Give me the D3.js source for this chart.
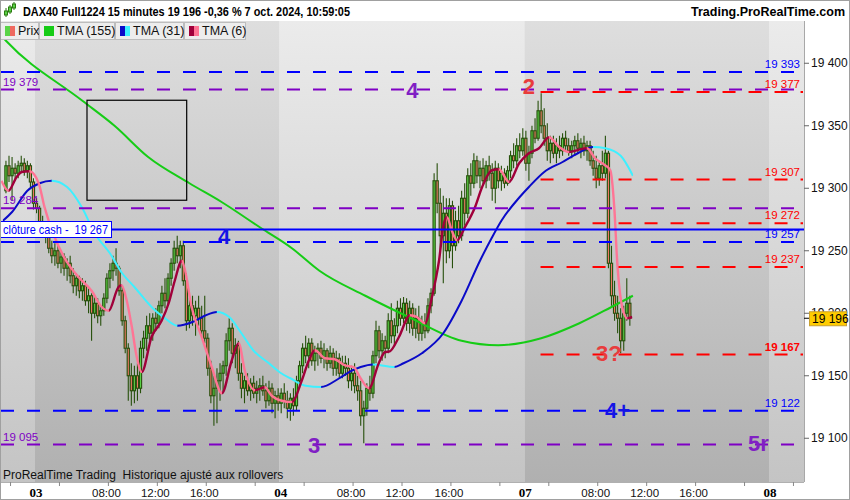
<!DOCTYPE html>
<html>
<head>
<meta charset="utf-8">
<script src="https://cdn.jsdelivr.net/npm/d3@7"></script>
<style>
  body { margin: 0; background: #fff; }
  svg { display: block; font-family: "Liberation Sans", Arial, sans-serif; }
  text { white-space: pre; }
</style>
</head>
<body>
<svg width="850" height="500"></svg>
<script>
// ---- data (15 min bars, slot 0 = day 03 session start, 80 slots per day) ----
const dayStarts = [-80, 0, 80, 160, 240]
const dayNames = ["02", "03", "04", "07", "08"]

// [open, high, low, close]
const day02 = [
  [19298,19322,19296,19318],[19318,19326,19305,19310],[19310,19325,19290,19316],
  [19316,19320,19306,19312],[19312,19322,19308,19318],[19318,19326,19312,19320],
  [19320,19324,19310,19314],[19314,19322,19308,19318],[19318,19320,19300,19305],
  [19305,19308,19283,19288]
]
const day03 = [
  [19288,19292,19280,19284],[19284,19286,19268,19272],[19272,19278,19262,19266],[19266,19270,19256,19262],
  [19262,19264,19248,19252],[19252,19258,19240,19246],[19246,19256,19238,19250],[19250,19254,19236,19240],
  [19240,19250,19232,19245],[19245,19248,19230,19236],[19236,19244,19226,19240],[19240,19246,19224,19230],
  [19230,19236,19216,19222],[19222,19232,19214,19228],[19228,19230,19212,19218],[19218,19228,19210,19222],
  [19222,19226,19206,19210],[19210,19220,19200,19214],[19214,19216,19178,19200],[19200,19214,19196,19208],
  [19208,19212,19192,19198],[19198,19206,19190,19202],[19202,19216,19198,19212],[19212,19232,19208,19228],
  [19228,19240,19220,19234],[19234,19246,19226,19240],[19240,19252,19230,19236],[19236,19238,19214,19218],
  [19218,19222,19190,19194],[19194,19198,19168,19172],[19172,19176,19130,19150],[19150,19160,19126,19138],
  [19138,19158,19128,19150],[19150,19160,19130,19140],[19140,19178,19136,19172],[19172,19186,19164,19180],
  [19180,19198,19170,19190],[19190,19200,19178,19184],[19184,19200,19178,19196],[19196,19204,19186,19192],
  [19192,19210,19188,19206],[19206,19222,19200,19216],[19216,19228,19204,19210],[19210,19232,19206,19228],
  [19228,19244,19222,19240],[19240,19258,19234,19252],[19252,19262,19240,19246],[19246,19258,19236,19254],
  [19254,19258,19222,19226],[19226,19232,19186,19194],[19194,19212,19188,19206],[19206,19214,19190,19198],
  [19198,19210,19182,19204],[19204,19214,19190,19196],[19196,19206,19180,19186],[19186,19214,19176,19180],
  [19180,19184,19150,19156],[19156,19162,19128,19134],[19134,19150,19110,19140],[19140,19156,19112,19146],
  [19146,19160,19130,19152],[19152,19162,19136,19158],[19158,19184,19150,19178],[19178,19196,19170,19188],
  [19188,19192,19160,19168],[19168,19180,19156,19174],[19174,19178,19146,19152],[19152,19160,19132,19140],
  [19140,19150,19128,19146],[19146,19152,19134,19138],[19138,19148,19130,19144],[19144,19150,19132,19136],
  [19136,19146,19128,19140],[19140,19148,19130,19142],[19142,19150,19134,19138],[19138,19144,19124,19130],
  [19130,19146,19126,19140],[19140,19144,19120,19128],[19128,19138,19116,19134],[19134,19140,19122,19128]
]
const day04 = [
  [19128,19140,19120,19136],[19136,19144,19124,19130],[19130,19138,19116,19124],[19124,19136,19114,19132],
  [19132,19140,19118,19126],[19126,19150,19122,19146],[19146,19162,19140,19158],[19158,19176,19152,19172],
  [19172,19182,19160,19166],[19166,19180,19156,19176],[19176,19180,19158,19162],[19162,19174,19154,19168],
  [19168,19176,19158,19172],[19172,19178,19160,19164],[19164,19176,19156,19170],[19170,19172,19154,19160],
  [19160,19174,19156,19168],[19168,19172,19150,19156],[19156,19170,19150,19164],[19164,19168,19148,19152],
  [19152,19166,19148,19160],[19160,19166,19150,19156],[19156,19164,19140,19146],[19146,19158,19138,19152],
  [19152,19160,19136,19142],[19142,19150,19130,19138],[19138,19146,19110,19118],[19118,19130,19096,19124],
  [19124,19144,19118,19140],[19140,19150,19130,19136],[19136,19170,19132,19166],[19166,19194,19160,19186],
  [19186,19190,19164,19170],[19170,19184,19162,19178],[19178,19182,19164,19172],[19172,19200,19168,19194],
  [19194,19208,19176,19182],[19182,19196,19174,19190],[19190,19210,19184,19204],[19204,19212,19190,19196],
  [19196,19213,19192,19208],[19208,19212,19186,19192],[19192,19210,19184,19204],[19204,19208,19182,19188],
  [19188,19204,19180,19196],[19196,19206,19178,19184],[19184,19198,19178,19192],[19192,19200,19180,19186],
  [19186,19212,19184,19206],[19206,19220,19200,19216],[19216,19312,19214,19306],[19306,19320,19280,19288],
  [19288,19300,19250,19262],[19262,19294,19224,19280],[19280,19292,19240,19250],[19250,19292,19244,19286],
  [19286,19290,19236,19254],[19254,19282,19250,19274],[19274,19286,19256,19262],[19262,19298,19258,19292],
  [19292,19304,19270,19280],[19280,19316,19276,19310],[19310,19320,19294,19304],[19304,19328,19300,19322],
  [19322,19326,19304,19310],[19310,19322,19300,19316],[19316,19324,19302,19306],[19306,19322,19300,19318],
  [19318,19326,19306,19312],[19312,19320,19290,19300],[19300,19322,19288,19316],[19316,19320,19300,19306],
  [19306,19318,19298,19312],[19312,19316,19300,19304],[19304,19318,19302,19314],[19314,19330,19308,19326],
  [19326,19336,19316,19322],[19322,19340,19318,19334],[19334,19344,19324,19330],[19330,19348,19326,19340]
]
const day07 = [
  [19340,19346,19314,19320],[19320,19334,19306,19328],[19328,19350,19324,19346],[19346,19356,19336,19340],
  [19340,19370,19338,19362],[19362,19376,19344,19350],[19350,19364,19334,19340],[19340,19352,19322,19330],
  [19330,19342,19320,19336],[19336,19342,19324,19328],[19328,19340,19320,19334],[19334,19342,19324,19330],
  [19330,19344,19326,19340],[19340,19346,19330,19334],[19334,19340,19326,19330],[19330,19338,19324,19334],
  [19334,19342,19326,19338],[19338,19344,19328,19332],[19332,19340,19324,19336],[19336,19342,19326,19330],
  [19330,19338,19322,19334],[19334,19338,19318,19322],[19322,19330,19310,19316],[19316,19326,19300,19308],
  [19308,19322,19302,19318],[19318,19330,19306,19312],[19312,19342,19308,19328],[19328,19330,19236,19240],
  [19240,19254,19206,19214],[19214,19226,19194,19200],[19200,19214,19184,19196],[19196,19204,19168,19178],
  [19178,19206,19170,19200],[19200,19228,19194,19208],[19208,19214,19190,19196]
]
const firstSlots = [-10, 0, 80, 160]

// indicators, [slot, value]
const tma155 = [[-11.5,19422],[-10,19418],[15,19370],[25.5,19350],[36.5,19325],[50,19304],[60.5,19289],
  [73.5,19268],[83.5,19252],[92.5,19234],[107.5,19214],[122.5,19196],[139,19178],[151,19174.4],
  [165,19180],[177.5,19192],[188,19205],[195,19214]]
const tma31 = [[-11,19274],[-8,19281],[-3,19298],[1,19304],[5,19306],[10,19301],[15,19284],[19,19264],
  [24,19248],[28,19232],[32,19221],[38,19204],[42,19196],[46,19190],[51,19193],[55,19198],[59,19201],
  [63,19197],[67,19184],[71,19170],[76,19160],[80,19152],[83,19148],[88,19142],[93,19141],[99,19148],
  [103,19154],[106,19157],[110,19159],[117,19157],[120,19160],[126,19168],[133,19184],[139,19210],
  [145,19242],[149,19261],[152,19274],[158,19293],[161,19301],[166,19313],[172,19321],[177,19328],
  [182,19333],[186,19332],[191,19326],[195,19310]]
const tma6 = [[-11.5,19306],[-9.2,19298],[-6.5,19309],[-4.9,19313],[-2.3,19313.6],[0.7,19304],
  [2.6,19285],[5.9,19261],[9.2,19244],[13.7,19229],[18,19218],[21.3,19205],[23.6,19202],[26.8,19221],
  [27.8,19222.4],[29.5,19210],[31.1,19190],[32.7,19166],[34.4,19153],[37.6,19181],[40.9,19194],
  [43.2,19208],[45.2,19226],[47.5,19242],[48.4,19236],[50.7,19205],[54,19181],[57.3,19157],[60.6,19136],
  [63.8,19162],[66.1,19176],[68.1,19154],[71.4,19138.4],[74.6,19140.8],[76.9,19134],[80.2,19130],
  [83.5,19129],[86.7,19146],[89,19162],[91,19170.4],[94.3,19164],[97.5,19163.2],[100.8,19158.4],
  [103.8,19156.8],[105.7,19149],[108.7,19140],[111.9,19160],[113.9,19168.8],[115.5,19169.5],
  [118.5,19181],[122.1,19198.4],[124.4,19197],[127,19192],[129.3,19213],[131.6,19242],[133.2,19272],
  [134.2,19276.8],[135.8,19266],[137.5,19258.4],[140.1,19269],[143.4,19285],[145.7,19301],[148.9,19314.4],
  [151.2,19315.2],[154.5,19305],[157.8,19320],[161,19328],[164.3,19332],[167.6,19340.8],[170.9,19333],
  [174.1,19329],[178.4,19331.5],[180,19332],[182.6,19324],[185.9,19318.4],[187.6,19314.4],[188.9,19285],
  [189.9,19240],[191.5,19205],[193.1,19196],[194.8,19197]]

// drawn levels
const blueLevels = [19393, 19257, 19122]
const purpleLevels = [19379, 19284, 19095]
const redLevels = [19377, 19307, 19272, 19237, 19167]
const cashClose = 19267
const redStartSlot = 165.3
const lastPrice = 19196
const priceTicks = [19100, 19150, 19200, 19250, 19300, 19350, 19400]
const timeTicks = [[24,"08:00"],[40,"12:00"],[56,"16:00"],[104,"08:00"],[120,"12:00"],[136,"16:00"],
  [184,"08:00"],[200,"12:00"],[216,"16:00"]]
const minorTicks = [-8, 8, 72, 88, 152, 168, 232, 248]
const waveLabels = [
  { t: "4", s: 123.4, v: 19379, c: "#8020c4" },
  { t: "2", s: 161.5, v: 19382, c: "#e83c3c" },
  { t: "4", s: 61.8, v: 19262, c: "#1414e6" },
  { t: "3", s: 91.3, v: 19095, c: "#8020c4" },
  { t: "3?", s: 187.6, v: 19168, c: "#e83c3c" },
  { t: "4+", s: 190.5, v: 19123, c: "#1414e6" },
  { t: "5r", s: 236.5, v: 19096, c: "#8020c4" }
]
const boxSlots = [17, 49.6]
const boxValues = [19370.4, 19290.4]

// ---- setup ----
const W = 850, H = 500, plotR = 804, plotT = 21, plotB = 482
const svg = d3.select("svg")
const defs = svg.append("defs")
const x = d3.scaleLinear().domain([0, 240]).range([35, 769])
const y = d3.scaleLinear().domain([19065, 19433]).range([482, 22])
const fmt = v => `${Math.floor(v / 1000)} ${String(Math.round(v) % 1000).padStart(3, "0")}`

defs.append("clipPath").attr("id", "plot")
  .append("rect").attr("x", 0).attr("y", plotT).attr("width", plotR).attr("height", plotB - plotT)

function grad(id, top, bottom) {
  const g = defs.append("linearGradient").attr("id", id).attr("x1", 0).attr("y1", 0).attr("x2", 0).attr("y2", 1)
  g.append("stop").attr("offset", "0%").attr("stop-color", top)
  g.append("stop").attr("offset", "100%").attr("stop-color", bottom)
}
grad("light", "#ebebeb", "#c4c4c4")
grad("dark", "#dedede", "#b0b0b0")

svg.append("rect").attr("width", W).attr("height", H).attr("fill", "#fff")

const plot = svg.append("g").attr("clip-path", "url(#plot)")

// day bands
plot.selectAll("rect.day")
  .data(dayStarts)
  .enter().append("rect")
  .attr("class", "day")
  .attr("x", d => x(d))
  .attr("y", plotT)
  .attr("width", x(80) - x(0))
  .attr("height", plotB - plotT)
  .attr("fill", (d, i) => i % 2 ? "url(#dark)" : "url(#light)")

// candles
const bars = []
;[day02, day03, day04, day07].forEach((day, k) => {
  day.forEach((b, i) => bars.push({ s: firstSlots[k] + i, o: b[0], h: b[1], l: b[2], c: b[3] }))
})
const slotW = x(1) - x(0)
const candles = plot.selectAll("g.bar").data(bars).enter().append("g").attr("class", "bar")
candles.append("line")
  .attr("x1", d => x(d.s + 0.5)).attr("x2", d => x(d.s + 0.5))
  .attr("y1", d => y(d.h)).attr("y2", d => y(d.l))
  .attr("stroke", "#27500c").attr("stroke-width", 1.1)
candles.append("rect")
  .attr("x", d => x(d.s + 0.5) - slotW * 0.36)
  .attr("width", slotW * 0.72)
  .attr("y", d => y(Math.max(d.o, d.c)))
  .attr("height", d => Math.max(1, Math.abs(y(d.o) - y(d.c))))
  .attr("fill", d => d.c >= d.o ? "#58d045" : "#ee7866")
  .attr("stroke", "#27500c").attr("stroke-width", 1.1)

// indicator lines
const lineGen = d3.line().x(d => x(d[0] + 0.5)).y(d => y(d[1])).curve(d3.curveMonotoneX)
function twoColorLine(pts, upColor, downColor, id, width) {
  const up = defs.append("clipPath").attr("id", id + "-up")
  const dn = defs.append("clipPath").attr("id", id + "-dn")
  pts.forEach((p, i) => {
    if (i === 0) return
    const prev = pts[i - 1]
    const target = p[1] > prev[1] ? up : dn
    target.append("rect")
      .attr("x", x(prev[0] + 0.5) - 0.2).attr("width", x(p[0] + 0.5) - x(prev[0] + 0.5) + 0.4)
      .attr("y", 0).attr("height", H)
  })
  ;[[up, upColor], [dn, downColor]].forEach(([clip, col]) => {
    plot.append("path").attr("d", lineGen(pts))
      .attr("clip-path", `url(#${clip.attr("id")})`)
      .attr("fill", "none").attr("stroke", col).attr("stroke-width", width)
  })
}
plot.append("path").attr("d", lineGen(tma155))
  .attr("fill", "none").attr("stroke", "#16cc16").attr("stroke-width", 2)
twoColorLine(tma31, "#0a0ac8", "#3ef0ff", "t31", 2)
twoColorLine(tma6, "#a0003a", "#ff7494", "t6", 2.4)

// levels
function level(v, color, fromX, dashStart) {
  plot.append("line")
    .attr("x1", fromX).attr("x2", plotR - 1)
    .attr("y1", y(v)).attr("y2", y(v))
    .attr("stroke", color).attr("stroke-width", 2)
    .attr("stroke-dasharray", "13,13")
    .attr("stroke-dashoffset", dashStart)
}
blueLevels.forEach(v => level(v, "#0000ff", 0, -1))
purpleLevels.forEach(v => level(v, "#7f00c4", 0, -1))
redLevels.forEach(v => level(v, "#ff0000", x(redStartSlot), 0))
plot.append("line")
  .attr("x1", 0).attr("x2", plotR).attr("y1", y(cashClose)).attr("y2", y(cashClose))
  .attr("stroke", "#0000ff").attr("stroke-width", 2)

// level labels
const lab = svg.append("g").attr("font-size", 11.5)
blueLevels.forEach(v => lab.append("text").attr("x", 800).attr("y", y(v) - 4)
  .attr("text-anchor", "end").attr("fill", "#0000ff").text(fmt(v)))
redLevels.forEach(v => lab.append("text").attr("x", 800).attr("y", y(v) - 4)
  .attr("text-anchor", "end").attr("fill", "#ff0000")
  .attr("font-weight", v === 19167 ? "bold" : null).text(fmt(v)))
purpleLevels.forEach(v => lab.append("text").attr("x", 3).attr("y", y(v) - 4)
  .attr("fill", "#7f00c4").text(fmt(v)))

// cash close box
svg.append("rect").attr("x", 0.5).attr("y", y(cashClose) - 8).attr("width", 111).attr("height", 16)
  .attr("fill", "#fff").attr("stroke", "#0000ff").attr("stroke-width", 1)
svg.append("text").attr("x", 3).attr("y", y(cashClose) + 4.5).attr("font-size", 13)
  .attr("textLength", 105).attr("lengthAdjust", "spacingAndGlyphs")
  .attr("fill", "#0000ff").text("clôture cash -  " + fmt(cashClose))

// box annotation
svg.append("rect")
  .attr("x", x(boxSlots[0])).attr("y", y(boxValues[0]))
  .attr("width", x(boxSlots[1]) - x(boxSlots[0])).attr("height", y(boxValues[1]) - y(boxValues[0]))
  .attr("fill", "none").attr("stroke", "#000").attr("stroke-width", 1.2)

// wave labels
svg.selectAll("text.wave").data(waveLabels).enter().append("text")
  .attr("class", "wave")
  .attr("x", d => x(d.s)).attr("y", d => y(d.v) + 8)
  .attr("text-anchor", "middle").attr("font-size", 22).attr("font-weight", "bold")
  .attr("fill", d => d.c).text(d => d.t)

// ---- axes ----
svg.append("line").attr("x1", plotR + 0.5).attr("x2", plotR + 0.5).attr("y1", plotT).attr("y2", plotB)
  .attr("stroke", "#a8a8a8")
const yAxis = svg.append("g")
priceTicks.forEach(v => {
  yAxis.append("line").attr("x1", plotR).attr("x2", plotR + 5).attr("y1", y(v)).attr("y2", y(v)).attr("stroke", "#666")
  yAxis.append("text").attr("x", plotR + 7).attr("y", y(v) + 4).attr("font-size", 12).attr("fill", "#111").text(fmt(v))
})
// last price tag (covers the 19 200 label as in the original)
svg.append("line").attr("x1", plotR).attr("x2", plotR + 5).attr("y1", y(lastPrice)).attr("y2", y(lastPrice)).attr("stroke", "#000")
svg.append("rect").attr("x", plotR + 5.5).attr("y", y(lastPrice) - 6.5).attr("width", 37).attr("height", 14)
  .attr("fill", "#ffcc00").attr("stroke", "#c8a030")
svg.append("text").attr("x", plotR + 8).attr("y", y(lastPrice) + 4.5).attr("font-size", 12).attr("fill", "#000").text(fmt(lastPrice))

// bottom axis
svg.append("rect").attr("x", 0).attr("y", plotB).attr("width", W).attr("height", H - plotB).attr("fill", "#fff")
svg.append("line").attr("x1", 0).attr("x2", plotR).attr("y1", plotB + 0.5).attr("y2", plotB + 0.5).attr("stroke", "#b0b0b0")
const xAxis = svg.append("g")
minorTicks.concat(timeTicks.map(d => d[0])).forEach(s => {
  xAxis.append("line").attr("x1", x(s)).attr("x2", x(s)).attr("y1", plotB).attr("y2", plotB + 4).attr("stroke", "#888")
})
timeTicks.forEach(([s, t]) => xAxis.append("text").attr("x", x(s) - 2).attr("y", 497)
  .attr("text-anchor", "middle").attr("font-size", 11.5).attr("fill", "#111").text(t))
dayStarts.slice(1).forEach((s, i) => xAxis.append("text").attr("x", x(s) + 1).attr("y", 497)
  .attr("text-anchor", "middle").attr("font-size", 13).attr("font-weight", "bold")
  .attr("font-family", "'Liberation Serif', 'DejaVu Serif', serif").attr("fill", "#000").text(dayNames[i + 1]))

svg.append("text").attr("x", 3).attr("y", 479).attr("font-size", 12).attr("fill", "#111")
  .text("ProRealTime Trading  Historique ajusté aux rollovers")

// ---- header and legend ----
svg.append("rect").attr("x", 0).attr("y", 0).attr("width", W).attr("height", plotT).attr("fill", "#fff")
const icon = svg.append("g").attr("stroke", "#2b7a10")
;[[6, 8, 17, 11, 15], [10, 5, 14, 7, 12], [14, 2, 10, 4, 8]].forEach(([cx, t, b, bt, bb]) => {
  icon.append("line").attr("x1", cx).attr("x2", cx).attr("y1", t).attr("y2", b)
  icon.append("rect").attr("x", cx - 1.5).attr("y", bt).attr("width", 3).attr("height", bb - bt).attr("fill", "#5ad447")
})
svg.append("text").attr("x", 23).attr("y", 16).attr("font-size", 12.5).attr("font-weight", "bold")
  .attr("textLength", 327).attr("lengthAdjust", "spacingAndGlyphs")
  .text("DAX40 Full1224 15 minutes 19 196 -0,36 % 7 oct. 2024, 10:59:05")
svg.append("text").attr("x", 845).attr("y", 16).attr("font-size", 12.5).attr("font-weight", "bold")
  .attr("text-anchor", "end").text("Trading.ProRealTime.com")

const legend = [
  { x0: 0, x1: 38, label: "Prix", c1: "#5ad447", c2: "#ef6a60" },
  { x0: 39, x1: 114, label: "TMA (155)", c1: "#16cc16", c2: "#16cc16" },
  { x0: 115, x1: 183, label: "TMA (31)", c1: "#0a0ac8", c2: "#3ef0ff" },
  { x0: 184, x1: 245, label: "TMA (6)", c1: "#a0003a", c2: "#ff7494" }
]
const lg = svg.selectAll("g.leg").data(legend).enter().append("g").attr("class", "leg")
lg.append("rect").attr("x", d => d.x0 + 0.5).attr("y", 22.5).attr("width", d => d.x1 - d.x0).attr("height", 17)
  .attr("fill", "#ededed").attr("stroke", "#bdbdbd")
lg.append("text").attr("x", d => d.x0 + 18).attr("y", 35).attr("font-size", 12.5).attr("fill", "#111").text(d => d.label)
lg.append("rect").attr("x", d => d.x0 + 5).attr("y", 26).attr("width", 5).attr("height", 10).attr("fill", d => d.c1)
lg.append("rect").attr("x", d => d.x0 + 10).attr("y", 26).attr("width", 5).attr("height", 10).attr("fill", d => d.c2)

// outer frame
svg.append("rect").attr("x", 0.5).attr("y", 0.5).attr("width", W - 1).attr("height", H - 1)
  .attr("fill", "none").attr("stroke", "#a0a0a0")
</script>
</body>
</html>
